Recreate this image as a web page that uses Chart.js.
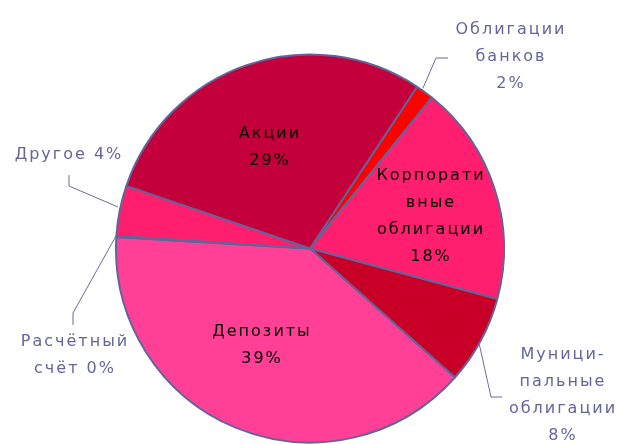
<!DOCTYPE html>
<html>
<head>
<meta charset="utf-8">
<script src="https://cdn.jsdelivr.net/npm/chart.js@4/dist/chart.umd.min.js"></script>
<style>
  html, body { margin: 0; padding: 0; background: #fff; }
  #wrap { width: 621px; height: 444px; }
</style>
</head>
<body>
<div id="wrap"><canvas id="pieChart" width="621" height="444"></canvas></div>
<script>
// slices, clockwise starting from the small red one at upper right
const categories = ['Облигации банков', 'Корпоративные облигации', 'Муниципальные облигации',
                    'Депозиты', 'Расчётный счёт', 'Другое', 'Акции'];
const shares = [1.5, 18.4, 7.4, 39.4, 0.1, 4.2, 29.1];
const pctLabels = ['2%', '18%', '8%', '39%', '0%', '4%', '29%'];
const sliceColors = ['#FF0000', '#FF1F6E', '#C80028', '#FF4096', '#FF1F6E', '#FF1F6E', '#C3003C'];

// how each label is broken into lines and where it sits (layout only)
const labelLayout = [
    { lines: ['Облигации', 'банков', '2%'], x: 510, y: 30, outside: true,
      leader: [[423, 88], [436, 58], [448, 58]] },
    { lines: ['Корпорати', 'вные', 'облигации', '18%'], x: 430, y: 176 },
    { lines: ['Муници-', 'пальные', 'облигации', '8%'], x: 562, y: 355, outside: true,
      leader: [[479, 343], [491, 397], [502, 397]] },
    { lines: ['Депозиты', '39%'], x: 261, y: 332 },
    { lines: ['Расчётный', 'счёт 0%'], x: 74, y: 342, outside: true,
      leader: [[116, 236], [73, 313], [73, 325]] },
    { lines: ['Другое 4%'], x: 68, y: 155, outside: true,
      leader: [[118, 207], [69, 186], [69, 175]] },
    { lines: ['Акции', '29%'], x: 269, y: 134 }
];

const sliceLabels = {
    id: 'sliceLabels',
    afterDraw(chart) {
        const ctx = chart.ctx;
        ctx.save();
        // leader lines
        ctx.strokeStyle = '#6A6C9C';
        ctx.lineWidth = 1;
        labelLayout.forEach(item => {
            if (!item.leader) return;
            ctx.beginPath();
            item.leader.forEach((p, i) => i ? ctx.lineTo(p[0], p[1]) : ctx.moveTo(p[0], p[1]));
            ctx.stroke();
        });
        // texts
        ctx.font = '16px "DejaVu Sans", Verdana, sans-serif';
        ctx.textAlign = 'center';
        ctx.textBaseline = 'middle';
        if ('letterSpacing' in ctx) ctx.letterSpacing = '2px';
        labelLayout.forEach(item => {
            ctx.fillStyle = item.outside ? '#64669A' : '#000000';
            item.lines.forEach((line, i) => {
                ctx.fillText(line, item.x + 1, item.y + i * 27);
            });
        });
        ctx.restore();
    }
};

new Chart(document.getElementById('pieChart').getContext('2d'), {
    type: 'pie',
    data: {
        labels: categories,
        datasets: [{
            data: shares,
            backgroundColor: sliceColors,
            borderColor: '#62649A',
            borderWidth: 2
        }]
    },
    options: {
        responsive: false,
        animation: false,
        rotation: 33.5,
        layout: { padding: { top: 53, bottom: 0, left: 115, right: 116 } },
        plugins: {
            legend: { display: false },
            tooltip: { enabled: false }
        }
    },
    plugins: [sliceLabels]
});
</script>
</body>
</html>
